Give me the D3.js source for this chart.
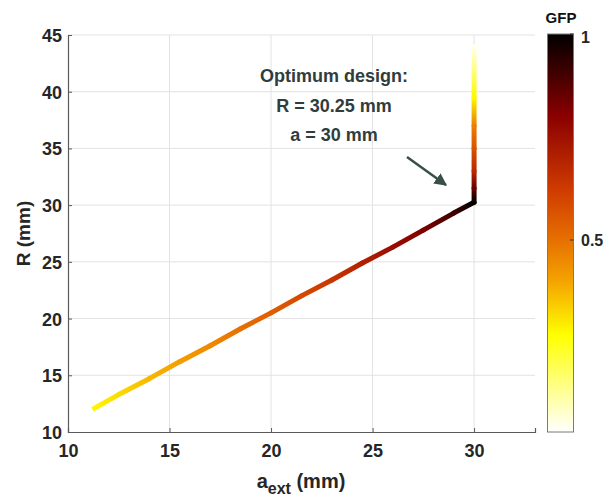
<!DOCTYPE html>
<html><head><meta charset="utf-8">
<script src="https://cdn.jsdelivr.net/npm/d3@7"></script>
<style>
body{margin:0;background:#fff}
text{font-family:"Liberation Sans",Arial,Helvetica,sans-serif;font-weight:bold}
</style></head>
<body><svg id="c" width="606" height="500"></svg>
<script>
// ---- data ----
const aExt = [11.2, 12.5, 14.0, 15.5, 17.0, 18.5, 20.0, 21.5, 23.0, 24.5, 26.0, 27.5, 29.0, 30.0, 30.0, 30.0, 30.0, 30.0, 30.0, 30.0, 30.0];
const Rval = [12.0, 13.3, 14.7, 16.2, 17.6, 19.1, 20.5, 22.0, 23.4, 24.9, 26.3, 27.8, 29.3, 30.25, 31.5, 33.0, 35.0, 37.0, 39.5, 42.0, 44.2];
const gfp  = [0.28, 0.32, 0.37, 0.41, 0.45, 0.50, 0.54, 0.59, 0.64, 0.70, 0.76, 0.82, 0.91, 1.00, 0.85, 0.68, 0.57, 0.47, 0.28, 0.15, 0.04];
const xTicks = [10, 15, 20, 25, 30];
const yTicks = [10, 15, 20, 25, 30, 35, 40, 45];
const cbTicks = [0.5, 1];
const cmapStops  = [0.034, 0.27, 0.40, 0.50, 0.62, 0.80, 1.0];
const cmapColors = ["#ffffff", "#ffff00", "#f5a300", "#e67000", "#d03c00", "#8b0000", "#000000"];
const annLines = ["Optimum design:", "R = 30.25 mm", "a = 30 mm"];

// ---- chart ----
const svg = d3.select("#c");
const x = d3.scaleLinear().domain([10, 33]).range([68, 535]);
const y = d3.scaleLinear().domain([10, 45]).range([432, 35]);
const cmap = d3.scaleLinear().domain(cmapStops).range(cmapColors).interpolate(d3.interpolateRgb).clamp(true);

// grid
svg.append("g").selectAll("line").data(xTicks.slice(1)).join("line")
  .attr("x1", d => x(d)).attr("x2", d => x(d)).attr("y1", y(10)).attr("y2", y(45))
  .attr("stroke", "#e3e3e3").attr("stroke-width", 1);
svg.append("g").selectAll("line").data(yTicks.slice(1)).join("line")
  .attr("x1", x(10)).attr("x2", x(33)).attr("y1", d => y(d)).attr("y2", d => y(d))
  .attr("stroke", "#e3e3e3").attr("stroke-width", 1);

// axes
const xAxis = svg.append("g").attr("transform", `translate(0,${y(10)})`)
  .call(d3.axisBottom(x).tickValues(xTicks).tickSize(-4).tickPadding(12));
const yAxis = svg.append("g").attr("transform", `translate(${x(10)},0)`)
  .call(d3.axisLeft(y).tickValues(yTicks).tickSize(-4).tickPadding(6));
[xAxis, yAxis].forEach(g => {
  g.select(".domain").attr("stroke", "#5a5a5a").attr("stroke-width", 1.2);
  g.selectAll(".tick line").attr("stroke", "#5a5a5a");
  g.selectAll(".tick text").attr("fill", "#262626").style("font-size", "18px")
    .style("font-family", '"Liberation Sans",Arial,sans-serif').style("font-weight", "bold");
});
yAxis.selectAll(".tick text").attr("dy", "0.36em");

// axis labels
const xl = svg.append("text").attr("x", 301).attr("y", 488).attr("text-anchor", "middle")
  .attr("fill", "#262626").style("font-size", "20px");
xl.append("tspan").text("a");
xl.append("tspan").attr("dy", 6).style("font-size", "16px").text("ext");
xl.append("tspan").attr("dy", -6).text(" (mm)");
svg.append("text").attr("transform", `translate(30,${(y(10) + y(45)) / 2}) rotate(-90)`)
  .attr("text-anchor", "middle").attr("fill", "#262626").style("font-size", "19px").text("R (mm)");

// line with gradient segments
const defs = svg.append("defs");
for (let i = 0; i < aExt.length - 1; i++) {
  const x1 = x(aExt[i]), y1 = y(Rval[i]), x2 = x(aExt[i + 1]), y2 = y(Rval[i + 1]);
  const id = "g" + i;
  const lg = defs.append("linearGradient").attr("id", id).attr("gradientUnits", "userSpaceOnUse")
    .attr("x1", x1).attr("y1", y1).attr("x2", x2).attr("y2", y2);
  lg.append("stop").attr("offset", 0).attr("stop-color", cmap(gfp[i]));
  lg.append("stop").attr("offset", 1).attr("stop-color", cmap(gfp[i + 1]));
  svg.append("line").attr("x1", x1).attr("y1", y1).attr("x2", x2).attr("y2", y2)
    .attr("stroke", `url(#${id})`).attr("stroke-width", 5)
    .attr("stroke-linecap", (i === 0 || i === aExt.length - 2) ? "butt" : "round");
}

// annotation
svg.append("g").selectAll("text").data(annLines).join("text")
  .attr("x", 334).attr("y", (d, i) => 82 + i * 29.5).attr("text-anchor", "middle")
  .attr("fill", "#2f3d3d").style("font-size", "18px").text(d => d);
defs.append("marker").attr("id", "ah").attr("viewBox", "0 0 10 10").attr("refX", 9).attr("refY", 5)
  .attr("markerWidth", 5).attr("markerHeight", 5).attr("orient", "auto")
  .append("path").attr("d", "M0,0 L10,5 L0,10 Z").attr("fill", "#3a4f48");
svg.append("line").attr("x1", 407).attr("y1", 157).attr("x2", 446).attr("y2", 185)
  .attr("stroke", "#3a4f48").attr("stroke-width", 2.5).attr("marker-end", "url(#ah)");

// colorbar
const cb = d3.scaleLinear().domain([cmapStops[0], 1]).range([432, 34]);
const cg = defs.append("linearGradient").attr("id", "cbg").attr("x1", 0).attr("y1", 1).attr("x2", 0).attr("y2", 0);
cmapStops.forEach((s, i) => cg.append("stop")
  .attr("offset", (s - cmapStops[0]) / (1 - cmapStops[0])).attr("stop-color", cmapColors[i]));
svg.append("rect").attr("x", 547.5).attr("y", 34).attr("width", 26).attr("height", 398)
  .attr("fill", "url(#cbg)").attr("stroke", "#7a7a7a").attr("stroke-width", 1);
svg.append("g").selectAll("line").data(cbTicks).join("line")
  .attr("x1", 570).attr("x2", 573.5).attr("y1", d => cb(d)).attr("y2", d => cb(d)).attr("stroke", "#333");
svg.append("g").selectAll("text").data(cbTicks).join("text")
  .attr("x", 581).attr("y", d => cb(d)).attr("dy", d => d === 1 ? "0.55em" : "0.36em")
  .attr("fill", "#262626").style("font-size", "16px").text(d => d3.format("~g")(d));
svg.append("text").attr("x", 561).attr("y", 23).attr("text-anchor", "middle")
  .attr("fill", "#111").style("font-size", "15px").text("GFP");
</script></body></html>
